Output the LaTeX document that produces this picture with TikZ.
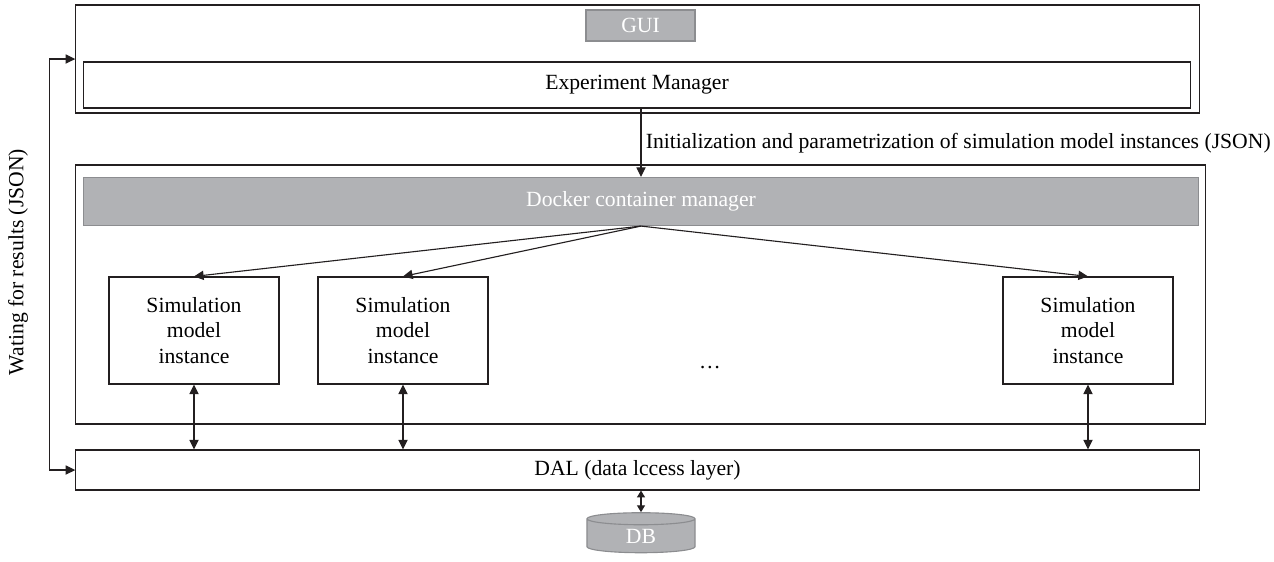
\documentclass[tikz,border=0pt]{standalone}
\usepackage{fontspec}
\setmainfont{Liberation Serif}
\usetikzlibrary{arrows.meta,shapes.geometric}
\definecolor{boxgray}{RGB}{177,178,181}
\definecolor{edgegray}{RGB}{140,141,144}
\definecolor{ink}{RGB}{35,31,32}
\begin{document}
\begin{tikzpicture}[x=0.025cm,y=-0.025cm,
        font=\fontsize{15.4}{18}\selectfont,
        box/.style={draw=ink,line width=0.8pt,inner sep=0pt},
        graybox/.style={draw=edgegray,fill=boxgray,text=white,line width=0.8pt,inner sep=0pt},
        arr/.style={draw=ink,line width=0.8pt,-{Triangle[length=2.4mm,width=2.3mm]}},
        darr/.style={draw=ink,line width=0.8pt,{Triangle[length=2.4mm,width=2.3mm]}-{Triangle[length=2.4mm,width=2.3mm]}}]
            \useasboundingbox (0,0) rectangle (1274,561);
            % upper layer
            \node[box,minimum width=28.075cm,minimum height=2.7cm](1) at (637.5, 59) {};
            \node[graybox,minimum width=2.725cm,minimum height=0.775cm](2) at (640.5, 25.5) {GUI};
            \node[box,minimum width=27.65cm,minimum height=1.15cm](3) at (637, 85) {Experiment Manager};
            % container layer
            \node[box,minimum width=28.225cm,minimum height=6.475cm](4) at (640.5, 294.5) {};
            \node[graybox,minimum width=27.85cm,minimum height=1.2cm](5) at (641, 201.5) {Docker container manager};
            \node[box,align=center,minimum width=4.25cm,minimum height=2.675cm](6) at (194, 330.5) {Simulation\\model\\instance};
            \node[box,align=center,minimum width=4.25cm,minimum height=2.675cm](7) at (403, 330.5) {Simulation\\model\\instance};
            \node[box,align=center,minimum width=4.25cm,minimum height=2.675cm](8) at (1088, 330.5) {Simulation\\model\\instance};
            \node(9) at (710, 368) {\dots};
            % data layer
            \node[box,minimum width=28.075cm,minimum height=1cm](10) at (637.5, 470) {DAL (data lccess layer)};
            \node[graybox,cylinder,shape border rotate=90,aspect=0.4,minimum width=2.7cm,minimum height=1cm](11) at (641, 536) {DB};
            \node[rotate=90](12) at (18, 262) {Wating for results (JSON)};
            % connectors
            \path[arr] (5.north |- 3.south) -- node[right,inner sep=3pt]{Initialization and parametrization of simulation model instances (JSON)} (5.north);
            \path (5.south) edge[arr] (6.north) (5.south) edge[arr] (7.north) (5.south) edge[arr] (8.north);
            \path[darr] (6.south) -- (6.south |- 10.north);
            \path[darr] (7.south) -- (7.south |- 10.north);
            \path[darr] (8.south) -- (8.south |- 10.north);
            \path[darr,{Triangle[length=1.7mm,width=2mm]}-{Triangle[length=1.7mm,width=2mm]}] (11.north |- 10.south) -- (11.north);
            \path[darr] (10.west) -- ++(-26,0) |- (1.west);
        \end{tikzpicture}
\end{document}
